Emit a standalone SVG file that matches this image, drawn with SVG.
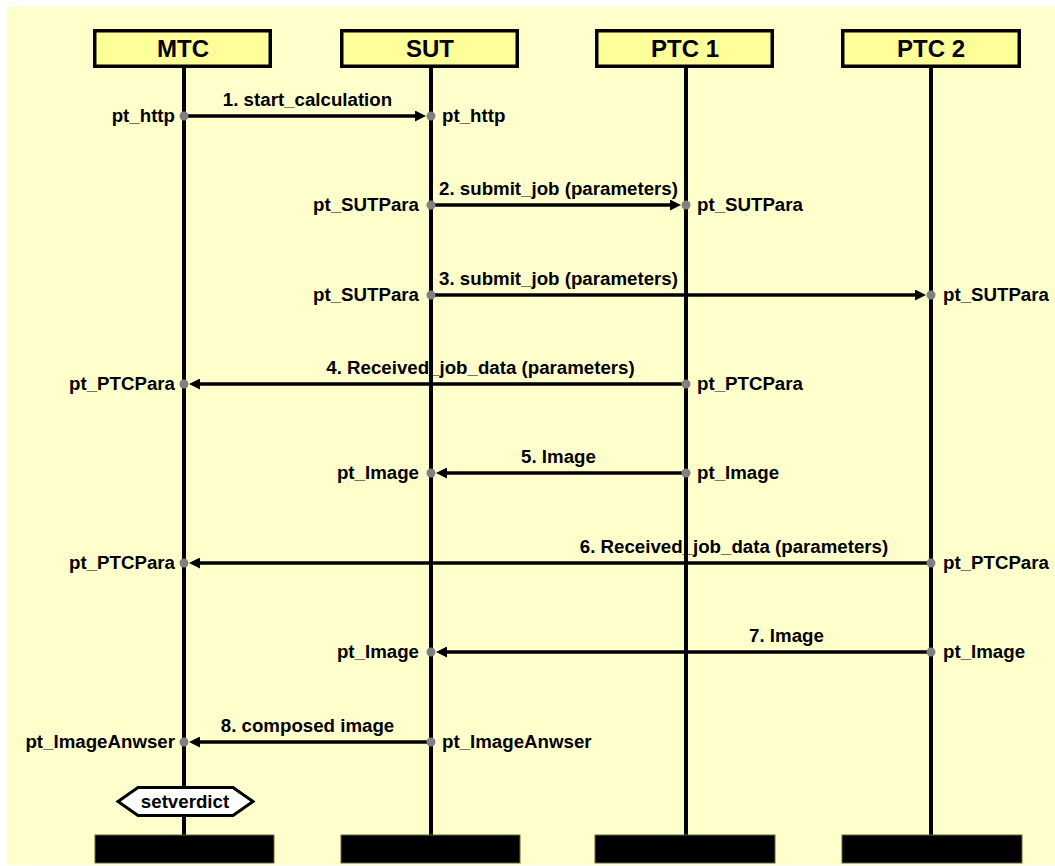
<svg xmlns="http://www.w3.org/2000/svg" width="1055" height="866" viewBox="0 0 1055 866">
  <defs>
    <style>
      .hdr { fill: #FFFF99; stroke: #000; stroke-width: 3.5; }
      .hdr-t { font-family: "Liberation Sans", Arial, sans-serif; font-weight: bold; font-size: 24px; text-anchor: middle; fill: #000; }
      .life { stroke: #000; stroke-width: 4; fill: none; }
      .bar { fill: #000; stroke: #66663a; stroke-width: 1; }
      .msg { stroke: #000; stroke-width: 3.5; fill: none; marker-end: url(#head); }
      .lbl { font-family: "Liberation Sans", Arial, sans-serif; font-weight: bold; font-size: 18.7px; fill: #000; }
      .mid { text-anchor: middle; }
      .end { text-anchor: end; }
      .port { fill: #808080; }
      .verdict { fill: #fff; stroke: #000; stroke-width: 3; }
    </style>
    <marker id="head" markerUnits="userSpaceOnUse" markerWidth="11" markerHeight="11" refX="3" refY="5.5" orient="auto">
      <path d="M0,0 L11,5.5 L0,11 z" fill="#000"/>
    </marker>
  </defs>

  <!-- canvas -->
  <rect x="7" y="7" width="1048" height="858" fill="#FFFFCC"/>

  <!-- instances: header, lifeline, end bar -->
  <g id="mtc">
    <line class="life" x1="184" y1="68" x2="184" y2="836"/>
    <rect class="hdr" x="94.75" y="30.75" width="175.5" height="35.5"/>
    <text class="hdr-t" x="183" y="57">MTC</text>
    <rect class="bar" x="95" y="835" width="179" height="28"/>
  </g>
  <g id="sut">
    <line class="life" x1="431" y1="68" x2="431" y2="836"/>
    <rect class="hdr" x="341.75" y="30.75" width="175.5" height="35.5"/>
    <text class="hdr-t" x="430" y="57">SUT</text>
    <rect class="bar" x="341" y="835" width="179" height="28"/>
  </g>
  <g id="ptc1">
    <line class="life" x1="686" y1="68" x2="686" y2="836"/>
    <rect class="hdr" x="596.75" y="30.75" width="175.5" height="35.5"/>
    <text class="hdr-t" x="685" y="57">PTC 1</text>
    <rect class="bar" x="595" y="835" width="180" height="28"/>
  </g>
  <g id="ptc2">
    <line class="life" x1="931" y1="68" x2="931" y2="836"/>
    <rect class="hdr" x="842.75" y="30.75" width="176.5" height="35.5"/>
    <text class="hdr-t" x="931" y="57">PTC 2</text>
    <rect class="bar" x="842" y="835" width="180" height="28"/>
  </g>

  <!-- messages -->
  <g id="messages">
    <path class="msg" d="M184,116 H418"/>
    <path class="msg" d="M431,205 H673"/>
    <path class="msg" d="M431,295 H918"/>
    <path class="msg" d="M686,384 H197"/>
    <path class="msg" d="M686,473 H444"/>
    <path class="msg" d="M931,563 H197"/>
    <path class="msg" d="M931,652 H444"/>
    <path class="msg" d="M431,742 H197"/>
  </g>

  <!-- message labels -->
  <g id="message-labels">
    <text class="lbl mid" x="307.5" y="106">1. start_calculation</text>
    <text class="lbl mid" x="558.5" y="195">2. submit_job (parameters)</text>
    <text class="lbl mid" x="558.5" y="285">3. submit_job (parameters)</text>
    <text class="lbl mid" x="480.5" y="374">4. Received_job_data (parameters)</text>
    <text class="lbl mid" x="558.5" y="463">5. Image</text>
    <text class="lbl mid" x="734" y="553">6. Received_job_data (parameters)</text>
    <text class="lbl mid" x="786.5" y="642">7. Image</text>
    <text class="lbl mid" x="307.5" y="732">8. composed image</text>
  </g>

  <!-- ports -->
  <g id="ports">
    <circle class="port" cx="184" cy="116" r="4.5"/>
    <circle class="port" cx="431" cy="116" r="4.5"/>
    <circle class="port" cx="431" cy="205" r="4.5"/>
    <circle class="port" cx="686" cy="205" r="4.5"/>
    <circle class="port" cx="431" cy="295" r="4.5"/>
    <circle class="port" cx="931" cy="295" r="4.5"/>
    <circle class="port" cx="184" cy="384" r="4.5"/>
    <circle class="port" cx="686" cy="384" r="4.5"/>
    <circle class="port" cx="431" cy="473" r="4.5"/>
    <circle class="port" cx="686" cy="473" r="4.5"/>
    <circle class="port" cx="184" cy="563" r="4.5"/>
    <circle class="port" cx="931" cy="563" r="4.5"/>
    <circle class="port" cx="431" cy="652" r="4.5"/>
    <circle class="port" cx="931" cy="652" r="4.5"/>
    <circle class="port" cx="184" cy="742" r="4.5"/>
    <circle class="port" cx="431" cy="742" r="4.5"/>
  </g>

  <!-- port labels -->
  <g id="port-labels">
    <text class="lbl end" x="175" y="122">pt_http</text>
    <text class="lbl" x="442" y="122">pt_http</text>
    <text class="lbl end" x="419" y="211">pt_SUTPara</text>
    <text class="lbl" x="697" y="211">pt_SUTPara</text>
    <text class="lbl end" x="419" y="301">pt_SUTPara</text>
    <text class="lbl" x="943" y="301">pt_SUTPara</text>
    <text class="lbl end" x="175" y="390">pt_PTCPara</text>
    <text class="lbl" x="697" y="390">pt_PTCPara</text>
    <text class="lbl end" x="419" y="479">pt_Image</text>
    <text class="lbl" x="697" y="479">pt_Image</text>
    <text class="lbl end" x="175" y="569">pt_PTCPara</text>
    <text class="lbl" x="943" y="569">pt_PTCPara</text>
    <text class="lbl end" x="419" y="658">pt_Image</text>
    <text class="lbl" x="943" y="658">pt_Image</text>
    <text class="lbl end" x="175" y="748">pt_ImageAnwser</text>
    <text class="lbl" x="442" y="748">pt_ImageAnwser</text>
  </g>

  <!-- verdict action on MTC -->
  <g id="setverdict">
    <polygon class="verdict" points="118,801.5 138,787.5 233,787.5 253,801.5 233,815.5 138,815.5"/>
    <text class="lbl mid" x="185" y="808">setverdict</text>
  </g>
</svg>
